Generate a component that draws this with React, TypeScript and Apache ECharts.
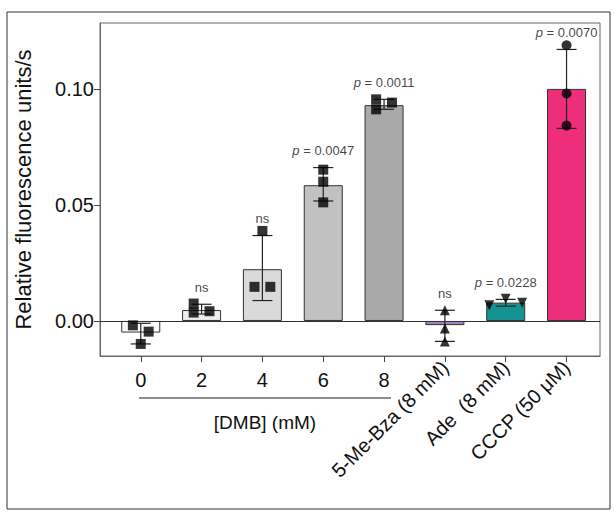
import * as echarts from "echarts";
import { useEffect, useRef } from "react";

const categories = ["0", "2", "4", "6", "8", "5-Me-Bza (8 mM)", "Ade  (8 mM)", "CCCP (50 μM)"];
const means = [-0.005, 0.0047, 0.0223, 0.0585, 0.093, -0.0018, 0.0079, 0.1];
const errLow = [-0.0099, 0.003, 0.0088, 0.0517, 0.0912, -0.0088, 0.0064, 0.083];
const errHigh = [-0.001, 0.0072, 0.0368, 0.0661, 0.0955, 0.0046, 0.0093, 0.117];
const colors = ["#ffffff", "#efefef", "#dadada", "#c1c1c1", "#a9a9a9", "#9b82c4", "#149393", "#ee2e7b"];
const annotations = ["", "ns", "ns", "0.0047", "0.0011", "ns", "0.0228", "0.0070"];
// replicate points: [x position, value]
const pts0 = [[-0.13, -0.0019], [0.13, -0.0046], [0, -0.0099]];
const pts2 = [[0.87, 0.0075], [0.87, 0.0036], [1.13, 0.0042]];
const pts4 = [[1.87, 0.0147], [2.13, 0.0147], [2, 0.0388]];
const pts6 = [[3, 0.0652], [3, 0.06], [3, 0.0511]];
const pts8 = [[3.87, 0.0955], [3.87, 0.0912], [4.13, 0.0941]];
const ptsBza = [[5, 0.0046], [5, -0.0033], [5, -0.0088]];
const ptsAde = [[5.73, 0.0068], [6, 0.0096], [6.27, 0.0079]];
const ptsCccp = [[7, 0.1188], [7, 0.098], [7, 0.0842]];

const font = "Liberation Sans, Arial, sans-serif";

export default function App() {
  const chartRef = useRef<HTMLDivElement>(null);
  useEffect(() => {
    const chart = echarts.init(chartRef.current, null, { renderer: "svg" });
    chart.setOption(getOption());
    return () => {
      chart.dispose();
    };
  }, []);
  return <div ref={chartRef} style={{ width: 615, height: 513, position: "absolute", left: 0, top: 0 }} />;
}

function getOption() {
  const xBase = { type: "value", min: -0.67, max: 7.55, splitLine: { show: false } };
  const pointSeries = (data, symbol, rotate = 0) => ({
    type: "scatter",
    data,
    symbol,
    symbolSize: 10,
    symbolRotate: rotate,
    itemStyle: { color: "#000" },
    z: 5,
  });
  return {
    animation: false,
    textStyle: { fontFamily: font },
    grid: { left: 100, right: 15, top: 23, bottom: 157 },
    graphic: [
      { type: "rect", shape: { x: 7, y: 12, width: 603, height: 497 }, style: { fill: "none", stroke: "#333", lineWidth: 1 } },
      { type: "rect", shape: { x: 100, y: 23, width: 500, height: 333 }, style: { fill: "none", stroke: "#666", lineWidth: 1 } },
      { type: "line", shape: { x1: 139, y1: 398, x2: 391, y2: 398 }, style: { stroke: "#666", lineWidth: 1.5 } },
      { type: "text", x: 265, y: 422, style: { text: "[DMB] (mM)", fontSize: 19, fontFamily: font, fill: "#111", align: "center", verticalAlign: "middle" } },
    ],
    xAxis: [
      {
        ...xBase,
        axisLine: { show: true, onZero: false, lineStyle: { color: "#666" } },
        axisTick: { show: true, customValues: [0, 1, 2, 3, 4, 5, 6, 7], length: 6, lineStyle: { color: "#444" } },
        axisLabel: {
          customValues: [0, 1, 2, 3, 4],
          formatter: (v) => categories[Math.round(v)],
          fontSize: 20,
          color: "#111",
          margin: 14,
        },
      },
      {
        ...xBase,
        position: "bottom",
        axisLine: { show: false, onZero: false },
        axisTick: { show: false },
        axisLabel: {
          customValues: [5, 6, 7],
          formatter: (v) => categories[Math.round(v)],
          fontSize: 20,
          color: "#111",
          rotate: 45,
          margin: 8,
        },
      },
    ],
    yAxis: {
      type: "value",
      min: -0.0151,
      max: 0.1284,
      splitLine: { show: false },
      axisLine: { show: true, onZero: false, lineStyle: { color: "#666" } },
      axisTick: { show: true, customValues: [0, 0.05, 0.1], length: 6, lineStyle: { color: "#444" } },
      axisLabel: { customValues: [0, 0.05, 0.1], formatter: (v) => v.toFixed(2), fontSize: 20, color: "#111", margin: 6 },
      name: "Relative fluorescence units/s",
      nameLocation: "middle",
      nameGap: 66,
      nameTextStyle: { fontSize: 22, color: "#111" },
    },
    series: [
      {
        type: "bar",
        barWidth: 39,
        data: means.map((v, i) => ({ value: [i, v], itemStyle: { color: colors[i] } })),
        itemStyle: { borderColor: "#333", borderWidth: 1 },
        markLine: {
          silent: true,
          symbol: "none",
          label: { show: false },
          lineStyle: { color: "#333", type: "solid", width: 1 },
          data: [{ yAxis: 0 }],
        },
      },
      {
        type: "custom",
        z: 4,
        data: means.map((_, i) => [i, errLow[i], errHigh[i]]),
        renderItem: (params, api) => {
          const lo = api.coord([api.value(0), api.value(1)]);
          const hi = api.coord([api.value(0), api.value(2)]);
          const w = 10;
          const st = { stroke: "#222", lineWidth: 1.2 };
          return {
            type: "group",
            children: [
              { type: "line", shape: { x1: lo[0], y1: lo[1], x2: hi[0], y2: hi[1] }, style: st },
              { type: "line", shape: { x1: lo[0] - w, y1: lo[1], x2: lo[0] + w, y2: lo[1] }, style: st },
              { type: "line", shape: { x1: hi[0] - w, y1: hi[1], x2: hi[0] + w, y2: hi[1] }, style: st },
            ],
          };
        },
      },
      pointSeries([...pts0, ...pts2, ...pts4, ...pts6, ...pts8], "rect"),
      pointSeries(ptsBza, "triangle"),
      pointSeries(ptsAde, "triangle", 180),
      pointSeries(ptsCccp, "circle"),
      {
        type: "scatter",
        symbol: "circle",
        symbolSize: 1,
        itemStyle: { color: "transparent" },
        z: 6,
        data: annotations.map((t, i) => ({ value: [i, errHigh[i]], name: t })),
        label: {
          show: true,
          position: "top",
          distance: 10,
          formatter: (p) => (p.name === "ns" || p.name === "" ? p.name : "{i|p} = " + p.name),
          fontSize: 13,
          color: "#111",
          rich: { i: { fontStyle: "italic", fontSize: 13 } },
        },
      },
    ],
  };
}
